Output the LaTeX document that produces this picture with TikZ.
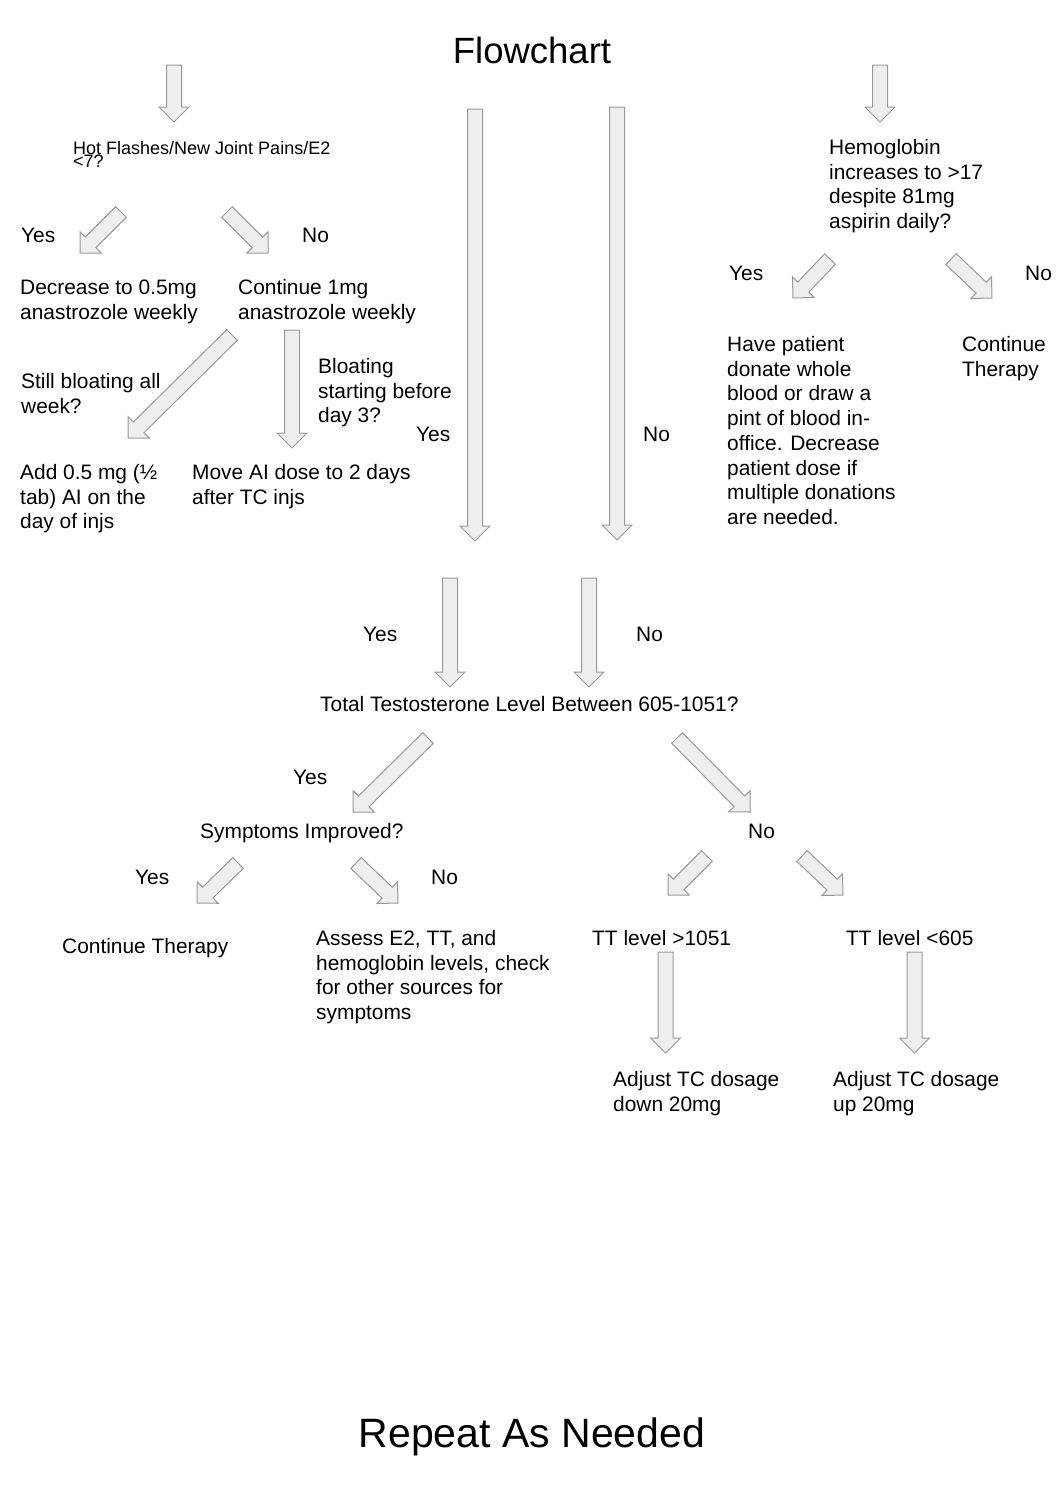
\documentclass[tikz,border=0pt]{standalone}
\usepackage{fontspec}
\setmainfont{Liberation Sans}
\usepackage{tikz}
\usetikzlibrary{calc}

\definecolor{arrowline}{HTML}{999999}
\definecolor{arrowfill}{HTML}{EEEEEE}

\tikzset{
    txt/.style={font=\fontsize{20.9}{24.7}\selectfont, inner sep=0pt, align=left, anchor=base west},
    smalltxt/.style={font=\fontsize{18}{13.3}\selectfont, inner sep=0pt, align=left, anchor=base west},
    headtxt/.style={font=\fontsize{36.5}{40}\selectfont, inner sep=0pt, anchor=base},
    foottxt/.style={font=\fontsize{41}{48}\selectfont, inner sep=0pt, anchor=base},
    blockarr/.style={draw=arrowline, fill=arrowfill, line width=1pt, line join=miter}
}

\newcommand{\blockarrow}[2]{%
    \coordinate (hb) at ($(#2)!15pt!(#1)$);
    \draw[blockarr] ($(#1)!7.5pt!90:(#2)$) -- ($(hb)!7.5pt!90:(#2)$) -- ($(hb)!15pt!90:(#2)$)
        -- (#2) -- ($(hb)!15pt!-90:(#2)$) -- ($(hb)!7.5pt!-90:(#2)$) -- ($(#1)!7.5pt!-90:(#2)$) -- cycle;}

\begin{document}
\begin{tikzpicture}[x=1pt,y=-1pt]
    \useasboundingbox (0,0) rectangle (1063,1508);

    \node[headtxt] (title) at (532,63) {Flowchart};

    \foreach \n/\a/\b/\c/\d in {1/174/65/174/122, 2/880/65/880/122, 3/121/212/80/253,
        4/227/212/268/253, 5/232/335/128/438, 6/292/330/292/448, 7/475/109/475/541,
        8/617/107/617/540, 9/830/259/793/298, 10/951/259/992/298, 11/450/578/450/687,
        12/589/578/589/687, 13/428/738/353/812, 14/677/738/750/812, 15/238/863/197/903,
        16/356/863/398/903, 17/707/856/668/895, 18/802/856/843/895,
        19/665.5/952/665.5/1053, 20/914.5/952/914.5/1053}
    {
        \coordinate (s\n) at (\a,\b);
        \coordinate (e\n) at (\c,\d);
        \blockarrow{s\n}{e\n}
    }

    % multi-line nodes sit on the baseline of their last line
    \node[smalltxt] (hot) at (73,167.3) {Hot Flashes/New Joint Pains/E2\\<7?};
    \node[txt] (yes1) at (21,242.5) {Yes};
    \node[txt] (no1) at (302,242.5) {No};
    \node[txt] (decr) at (20,319.2) {Decrease to 0.5mg\\anastrozole weekly};
    \node[txt] (cont) at (238,319.2) {Continue 1mg\\anastrozole weekly};
    \node[txt] (still) at (21,413.2) {Still bloating all\\week?};
    \node[txt] (bloat) at (318,422.9) {Bloating\\starting before\\day 3?};
    \node[txt] (addai) at (20,528.9) {Add 0.5 mg (½\\tab) AI on the\\day of injs};
    \node[txt] (moveai) at (192,504.2) {Move AI dose to 2 days\\after TC injs};
    \node[txt] (yes2) at (416,441.5) {Yes};
    \node[txt] (no2) at (643,441.5) {No};

    \node[txt] (hemo) at (829,228.6) {Hemoglobin\\increases to >17\\despite 81mg\\aspirin daily?};
    \node[txt] (yes3) at (729,280.5) {Yes};
    \node[txt] (no3) at (1025,280.5) {No};
    \node[txt] (donate) at (727,524.4) {Have patient\\donate whole\\blood or draw a\\pint of blood in-\\office. Decrease\\patient dose if\\multiple donations\\are needed.};
    \node[txt] (cont2) at (962,376.2) {Continue\\Therapy};

    \node[txt] (yes4) at (363,641.5) {Yes};
    \node[txt] (no4) at (636,641.5) {No};
    \node[txt] (total) at (320,711.5) {Total Testosterone Level Between 605-1051?};
    \node[txt] (yes5) at (293,784.5) {Yes};
    \node[txt] (no5) at (748,838.5) {No};
    \node[txt] (symp) at (200,838.5) {Symptoms Improved?};
    \node[txt] (yes6) at (135,884.5) {Yes};
    \node[txt] (no6) at (431,884.5) {No};
    \node[txt] (cont3) at (62,953.5) {Continue Therapy};
    \node[txt] (assess) at (316,1019.6) {Assess E2, TT, and\\hemoglobin levels, check\\for other sources for\\symptoms};
    \node[txt] (tthigh) at (592,945.5) {TT level >1051};
    \node[txt] (ttlow) at (846,945.5) {TT level <605};
    \node[txt] (down) at (613,1111.2) {Adjust TC dosage\\down 20mg};
    \node[txt] (up) at (833,1111.2) {Adjust TC dosage\\up 20mg};

    \node[foottxt] (repeat) at (532,1447) {Repeat As Needed};
\end{tikzpicture}
\end{document}
